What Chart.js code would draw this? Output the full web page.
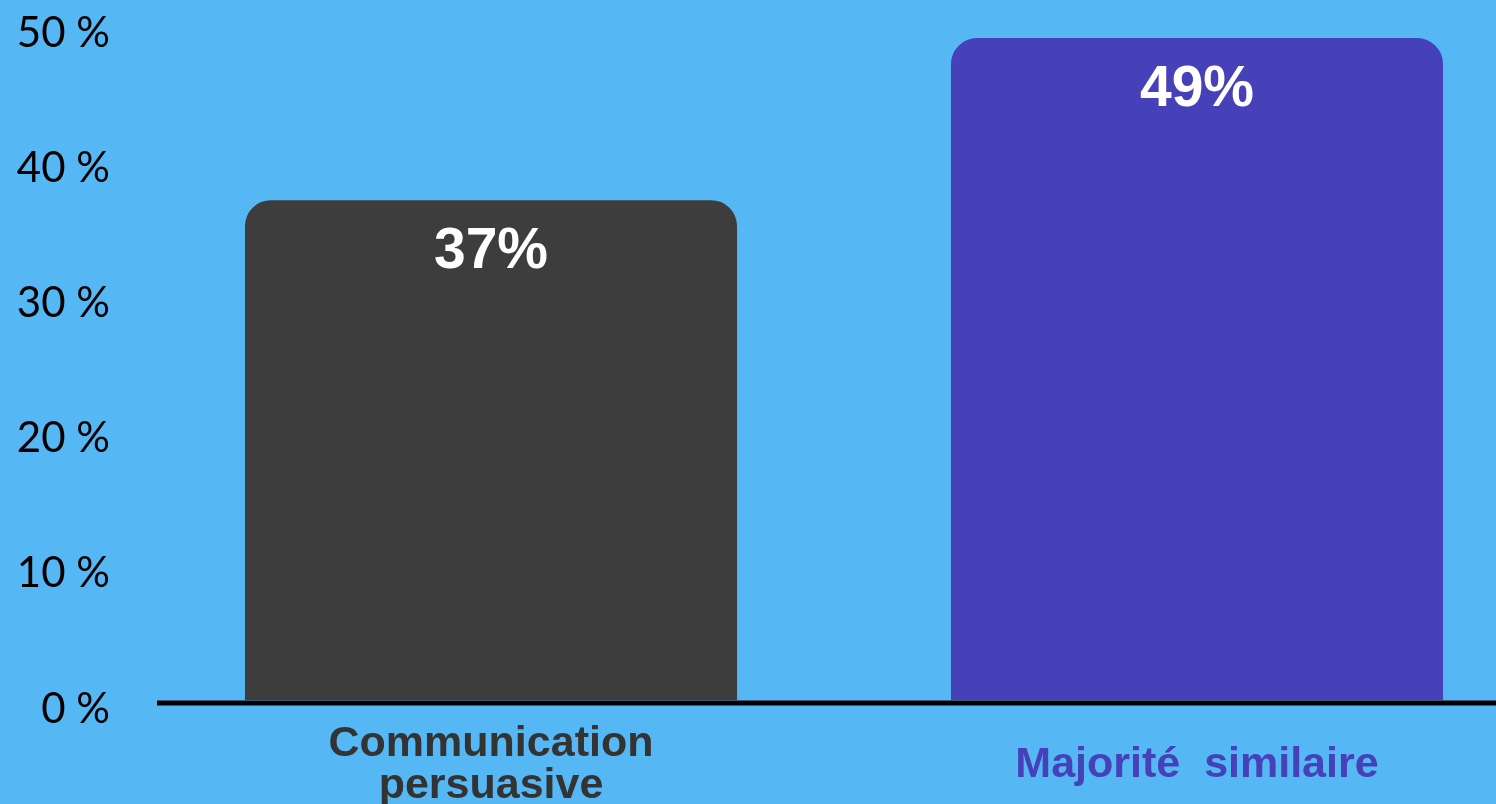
<!DOCTYPE html>
<html>
<head>
<meta charset="utf-8">
<script src="https://cdn.jsdelivr.net/npm/chart.js@4.4.1/dist/chart.umd.min.js"></script>
<style>
    html, body { margin: 0; padding: 0; background: #55b8f4; overflow: hidden; }
    #wrap { width: 1560px; height: 804px; }
</style>
</head>
<body>
<div id="wrap"><canvas id="bar-chart" width="1560" height="804"></canvas></div>
<script>
// Data
const categories = [['Communication', 'persuasive'], 'Majorité  similaire'];
const values = [37, 49];
const barColors = ['#3d3d3d', '#4641b8'];
const labelColors = ['#333333', '#4641b8'];
const yTicks = [0, 10, 20, 30, 40, 50];

// Thick black baseline, starting a bit right of the chart area
const baseLine = {
    id: 'baseLine',
    afterDatasetsDraw(chart) {
        const ctx = chart.ctx;
        const y = chart.scales.y.getPixelForValue(0) + 3;
        ctx.save();
        ctx.strokeStyle = '#000';
        ctx.lineWidth = 5;
        ctx.beginPath();
        ctx.moveTo(157, y);
        ctx.lineTo(1496, y);
        ctx.stroke();
        ctx.restore();
    }
};

// White value labels inside the top of each bar
const valueLabels = {
    id: 'valueLabels',
    afterDatasetsDraw(chart) {
        const ctx = chart.ctx;
        const meta = chart.getDatasetMeta(0);
        ctx.save();
        ctx.fillStyle = '#ffffff';
        ctx.font = 'bold 57px "Liberation Sans", Arial, sans-serif';
        ctx.textAlign = 'center';
        ctx.textBaseline = 'middle';
        meta.data.forEach((bar, i) => {
            ctx.fillText(values[i] + '%', bar.x, bar.y + 52);
        });
        ctx.restore();
    }
};

Chart.defaults.devicePixelRatio = 1;

const barCtx = document.getElementById('bar-chart').getContext('2d');
const barChart = new Chart(barCtx, {
    type: 'bar',
    data: {
        labels: categories,
        datasets: [{
            data: values,
            backgroundColor: barColors,
            borderWidth: 0,
            borderRadius: { topLeft: 26, topRight: 26, bottomLeft: 0, bottomRight: 0 },
            borderSkipped: false,
            categoryPercentage: 1,
            barPercentage: 0.697
        }]
    },
    options: {
        responsive: false,
        animation: false,
        layout: { padding: { top: 24.5, right: 10, left: 0, bottom: 0 } },
        plugins: {
            legend: { display: false },
            tooltip: { enabled: false }
        },
        scales: {
            x: {
                grid: { display: false, drawTicks: false },
                border: { display: false },
                ticks: {
                    padding: 44,
                    crossAlign: 'center',
                    maxRotation: 0,
                    color: (c) => labelColors[c.index],
                    font: { family: '"Liberation Sans", Arial, sans-serif', size: 43, weight: 'bold', lineHeight: 0.98 }
                },
                afterFit(scale) {
                    scale.height = 104;
                    scale.paddingLeft = 0;
                    scale.paddingRight = 0;
                }
            },
            y: {
                min: 0,
                max: 50,
                grid: { display: false, drawTicks: false },
                border: { display: false },
                afterBuildTicks(scale) { scale.ticks = yTicks.map(v => ({ value: v })); },
                ticks: {
                    padding: 28,
                    labelOffset: 9,
                    color: '#000000',
                    font: { family: 'Lato, "Noto Sans", sans-serif', size: 42 },
                    callback: (v) => v + ' %'
                },
                afterFit(scale) {
                    scale.width = 138;
                    scale.paddingTop = 0;
                    scale.paddingBottom = 0;
                }
            }
        }
    },
    plugins: [baseLine, valueLabels]
});
</script>
</body>
</html>
